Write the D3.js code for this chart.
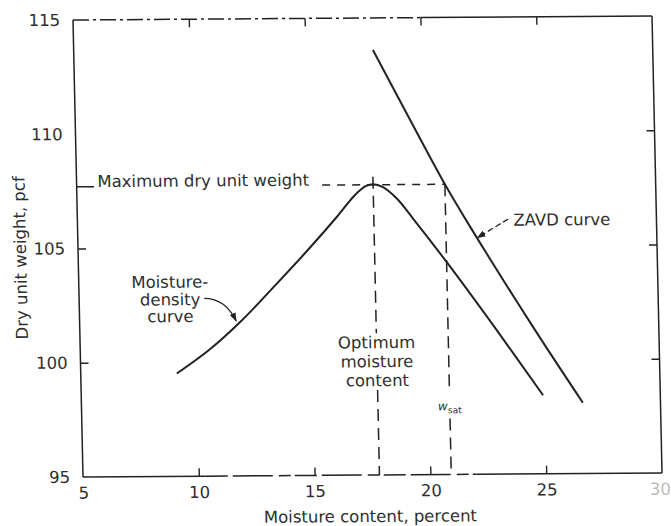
<!DOCTYPE html>
<html>
<head>
<meta charset="utf-8">
<script src="https://cdn.jsdelivr.net/npm/d3@7"></script>
<style>
  body { margin: 0; background: #fff; }
  text { font-family: "DejaVu Sans", sans-serif; fill: #2e2e2e; }
</style>
</head>
<body>
<svg id="chart" width="671" height="526"></svg>
<script>
// Axis ticks
const xTicks = [5, 10, 15, 20, 25, 30];
const yTicks = [95, 100, 105, 110, 115];
const xInnerTicks = [10, 15, 20, 25];
const yLeftInnerTicks = [100, 105];
const yRightInnerTicks = [100, 105, 110];

// Compaction (moisture-density) curve: moisture content %, dry unit weight pcf
const mdMoisture = [9.15, 10.6, 12.0, 13.5, 15.0, 16.2, 17.0, 17.5, 17.8, 18.2, 18.8, 19.5, 20.9, 23.0, 24.94];
const mdDensity  = [99.5, 100.55, 101.8, 103.35, 104.95, 106.3, 107.25, 107.65, 107.72, 107.6, 107.1, 106.2, 104.3, 101.3, 98.44];

// Zero-air-voids curve
const zavdMoisture = [17.92, 20.28, 20.9, 21.94, 24.65, 26.65];
const zavdDensity  = [113.6, 108.9, 107.7, 105.85, 101.3, 98.1];

// Key values
const optimumMoisture = 17.8;
const maxDryUnitWeight = 107.7;
const saturationMoisture = 20.9;

const ink = "#222";
const W = 579, H = 457;
const svg = d3.select("#chart");

const x = d3.scaleLinear().domain([5, 30]).range([0, W]);
const y = d3.scaleLinear().domain([95, 115]).range([H, 0]);

// the whole figure sits on a slight shear
const g = svg.append("g").attr("transform", "matrix(1,-0.0069,0.0219,1,73,20)");

const defs = svg.append("defs");
defs.append("marker")
  .attr("id", "arrow").attr("viewBox", "0 0 10 10")
  .attr("refX", 9).attr("refY", 5)
  .attr("markerWidth", 7).attr("markerHeight", 7)
  .attr("orient", "auto")
  .append("path").attr("d", "M0,1.5 L10,5 L0,8.5 z").attr("fill", ink);

// ---- frame ----
const frame = g.append("g").attr("stroke", ink).attr("stroke-width", 1.5).attr("fill", "none");
frame.append("line").attr("x1", x(5)).attr("x2", x(5)).attr("y1", y(115)).attr("y2", y(95));
frame.append("line").attr("x1", x(30)).attr("x2", x(30)).attr("y1", y(115)).attr("y2", y(95));
frame.append("line").attr("x1", x(5)).attr("x2", x(20)).attr("y1", y(115)).attr("y2", y(115))
  .attr("stroke-dasharray", "16 4 3 4");
frame.append("line").attr("x1", x(20)).attr("x2", x(30)).attr("y1", y(115)).attr("y2", y(115));
frame.append("line").attr("x1", x(5)).attr("x2", x(10.3)).attr("y1", y(95)).attr("y2", y(95));
frame.append("line").attr("x1", x(10.3)).attr("x2", x(22)).attr("y1", y(95)).attr("y2", y(95))
  .attr("stroke-dasharray", "22 5 40 6 12 4");
frame.append("line").attr("x1", x(22)).attr("x2", x(30)).attr("y1", y(95)).attr("y2", y(95));

// ---- inward tick marks ----
const tickLen = 8;
function clean(sel) { sel.select(".domain").remove(); sel.attr("color", ink).selectAll("line").attr("stroke-width", 1.4); }
g.append("g").attr("transform", `translate(0,${H})`)
  .call(d3.axisBottom(x).tickValues(xInnerTicks).tickSize(-tickLen).tickFormat("")).call(clean);
g.append("g")
  .call(d3.axisTop(x).tickValues(xInnerTicks).tickSize(-tickLen).tickFormat("")).call(clean);
g.append("g")
  .call(d3.axisLeft(y).tickValues(yLeftInnerTicks).tickSize(-tickLen).tickFormat("")).call(clean);
g.append("g").attr("transform", `translate(${W},0)`)
  .call(d3.axisRight(y).tickValues(yRightInnerTicks).tickSize(-tickLen).tickFormat("")).call(clean);

// ---- tick labels ----
const xLab = g.append("g").attr("transform", `translate(0,${H})`)
  .call(d3.axisBottom(x).tickValues(xTicks).tickSize(0).tickPadding(10).tickFormat(d3.format("d")));
xLab.select(".domain").remove();
xLab.attr("font-family", null).attr("font-size", null);
xLab.selectAll("text").style("font-size", "16.5px").attr("fill", "#2e2e2e");
// last label is faint and tucked against the edge
xLab.selectAll("text").filter(d => d === 30)
  .attr("fill-opacity", 0.35).attr("text-anchor", "end").attr("dx", 8);

const yLab = g.append("g")
  .call(d3.axisLeft(y).tickValues(yTicks).tickSize(0).tickPadding(13).tickFormat(d3.format("d")));
yLab.select(".domain").remove();
yLab.attr("font-family", null).attr("font-size", null);
yLab.selectAll("text").style("font-size", "16.5px").attr("fill", "#2e2e2e");

// ---- axis titles ----
g.append("text")
  .attr("x", W / 2 - 3).attr("y", H + 47)
  .attr("text-anchor", "middle").style("font-size", "16.5px")
  .text("Moisture content, percent");
g.append("text")
  .attr("transform", `translate(-52,${H / 2 + 9}) rotate(-90)`)
  .attr("text-anchor", "middle").style("font-size", "16.5px")
  .text("Dry unit weight, pcf");

// ---- guide lines ----
const guides = g.append("g").attr("stroke", ink).attr("stroke-width", 1.5).attr("fill", "none");
// maximum dry unit weight level
guides.append("line").attr("x1", x(5)).attr("x2", x(5.75))
  .attr("y1", y(maxDryUnitWeight)).attr("y2", y(maxDryUnitWeight));
guides.append("line").attr("x1", x(15.6)).attr("x2", x(saturationMoisture))
  .attr("y1", y(maxDryUnitWeight)).attr("y2", y(maxDryUnitWeight))
  .attr("stroke-dasharray", "8 7");
// optimum moisture content
guides.append("line").attr("x1", x(optimumMoisture)).attr("x2", x(optimumMoisture))
  .attr("y1", y(108.05)).attr("y2", y(101.2)).attr("stroke-dasharray", "12 7");
guides.append("line").attr("x1", x(optimumMoisture)).attr("x2", x(optimumMoisture))
  .attr("y1", y(98.72)).attr("y2", y(95)).attr("stroke-dasharray", "12 7");
// saturation moisture content
guides.append("line").attr("x1", x(saturationMoisture)).attr("x2", x(saturationMoisture))
  .attr("y1", y(maxDryUnitWeight)).attr("y2", y(98.6)).attr("stroke-dasharray", "12 7");
guides.append("line").attr("x1", x(saturationMoisture)).attr("x2", x(saturationMoisture))
  .attr("y1", y(97.45)).attr("y2", y(95)).attr("stroke-dasharray", "12 7");

// ---- curves ----
const line = d3.line().x(d => x(d[0])).y(d => y(d[1])).curve(d3.curveCatmullRom.alpha(0.5));
g.append("path").datum(d3.zip(mdMoisture, mdDensity))
  .attr("d", line).attr("fill", "none").attr("stroke", ink).attr("stroke-width", 2);
g.append("path").datum(d3.zip(zavdMoisture, zavdDensity))
  .attr("d", line).attr("fill", "none").attr("stroke", ink).attr("stroke-width", 2);

// ---- annotations ----
g.append("text")
  .attr("x", x(5.9)).attr("y", y(107.68))
  .style("font-size", "16.5px")
  .text("Maximum dry unit weight");

const md = g.append("text").attr("text-anchor", "middle").style("font-size", "16.5px");
[["Moisture-", 103.51], ["density", 102.74], ["curve", 102.0]].forEach(([t, v]) => {
  md.append("tspan").attr("x", x(8.93)).attr("y", y(v)).attr("dy", "0.35em").text(t);
});
g.append("path")
  .attr("d", `M${x(10.4)},${y(102.78)} Q${x(11.3)},${y(102.78)} ${x(11.76)},${y(101.78)}`)
  .attr("fill", "none").attr("stroke", ink).attr("stroke-width", 1.3)
  .attr("marker-end", "url(#arrow)");

const opt = g.append("text").attr("text-anchor", "middle").style("font-size", "16.5px");
[["Optimum", 100.8], ["moisture", 99.97], ["content", 99.14]].forEach(([t, v]) => {
  opt.append("tspan").attr("x", x(optimumMoisture)).attr("y", y(v)).attr("dy", "0.35em").text(t);
});

g.append("text")
  .attr("x", x(23.82)).attr("y", y(106.12)).attr("dy", "0.35em")
  .style("font-size", "16.5px")
  .text("ZAVD curve");
g.append("line")
  .attr("x1", x(23.6)).attr("y1", y(106.16))
  .attr("x2", x(22.25)).attr("y2", y(105.35))
  .attr("stroke", ink).attr("stroke-width", 1.3).attr("stroke-dasharray", "6 3")
  .attr("marker-end", "url(#arrow)");

const ws = g.append("text").attr("text-anchor", "middle")
  .attr("x", x(saturationMoisture)).attr("y", y(97.95)).attr("dy", "0.2em");
ws.append("tspan").style("font-size", "12px").style("font-style", "italic").text("w");
ws.append("tspan").style("font-size", "9px").attr("dy", "3").text("sat");
</script>
</body>
</html>
